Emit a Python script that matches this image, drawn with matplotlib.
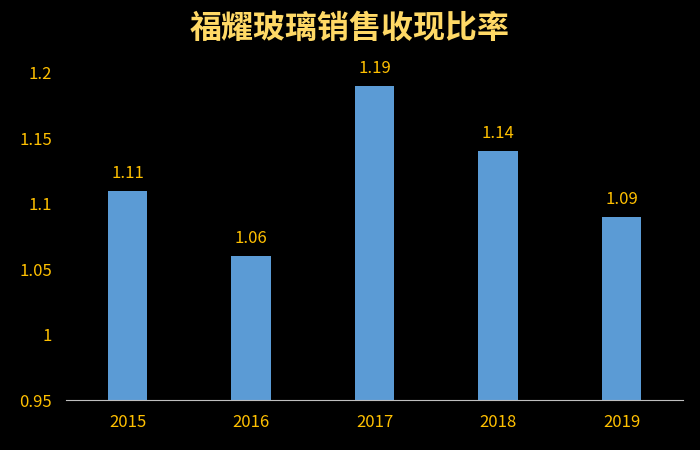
import matplotlib.pyplot as plt

plt.rcParams['font.family'] = ['Noto Sans CJK SC', 'DejaVu Sans']

years = ["2015", "2016", "2017", "2018", "2019"]
ratios = [1.11, 1.06, 1.19, 1.14, 1.09]
yticks = [0.95, 1, 1.05, 1.1, 1.15, 1.2]
ytick_labels = ["0.95", "1", "1.05", "1.1", "1.15", "1.2"]

gold = "#FFC000"
fig = plt.figure(figsize=(7, 4.5), dpi=100, facecolor="black")
ax = fig.add_axes([0.094, 0.111, 0.882, 0.727], facecolor="black")

x = range(len(years))
ax.bar(x, ratios, width=0.32, color="#5B9BD5")
for i, v in zip(x, ratios):
    ax.text(i, v + 0.007, f"{v:.2f}", ha="center", va="bottom",
            color=gold, fontsize=12, clip_on=False)

ax.set_ylim(0.95, 1.2)
ax.set_xlim(-0.5, 4.5)
ax.set_xticks(list(x))
ax.set_xticklabels(years, color=gold, fontsize=12)
ax.set_yticks(yticks)
ax.set_yticklabels(ytick_labels, color=gold, fontsize=12)
ax.tick_params(length=0, pad=10)
for s in ["top", "right", "left"]:
    ax.spines[s].set_visible(False)
ax.spines["bottom"].set_color("#BFBFBF")

fig.text(0.5, 0.936, "福耀玻璃销售收现比率", ha="center", va="center",
         color="#FFD966", fontsize=23, fontweight="bold")

fig.savefig("out.png", facecolor="black")
